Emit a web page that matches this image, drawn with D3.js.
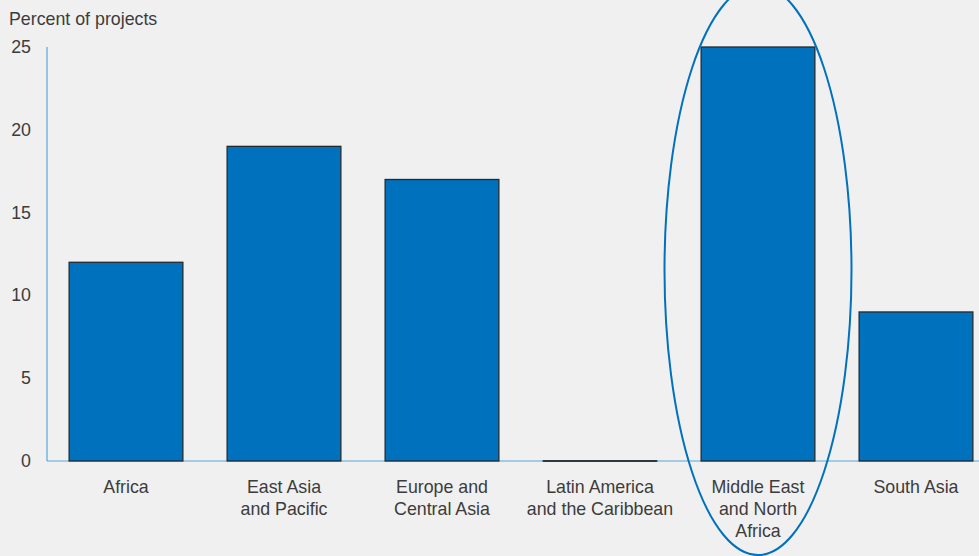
<!DOCTYPE html>
<html><head><meta charset="utf-8">
<script src="https://cdn.jsdelivr.net/npm/d3@7/dist/d3.min.js"></script>
<style>
html,body{margin:0;padding:0;background:#f0f0f0;}
svg{display:block;font-family:"Liberation Sans",Arial,Helvetica,sans-serif;}
</style></head>
<body><svg id="c" width="979" height="556"></svg>
<script>
const categories = [["Africa"],["East Asia","and Pacific"],["Europe and","Central Asia"],["Latin America","and the Caribbean"],["Middle East","and North","Africa"],["South Asia"]];
const values = [12, 19, 17, 0, 25, 9];
const yTicks = [0, 5, 10, 15, 20, 25];
const yTitle = "Percent of projects";
const highlightIndex = 4;

const svg = d3.select("#c");
const textColor = "#3c3c3c";
const fs = 17.8;
const x = d3.scaleBand().domain(d3.range(categories.length)).range([47, 995]).paddingInner(0.28).paddingOuter(0.14);
const y = d3.scaleLinear().domain([0, 25]).range([461, 47]);

// axes
svg.append("line").attr("x1",47).attr("x2",979).attr("y1",y(0)).attr("y2",y(0)).attr("stroke","#5aa5d8").attr("stroke-width",1.2);
svg.append("line").attr("x1",47).attr("x2",47).attr("y1",y(0)).attr("y2",y(25)).attr("stroke","#5aa5d8").attr("stroke-width",1.2);

svg.selectAll(".yt").data(yTicks).enter().append("text")
  .attr("x",31).attr("y",d=>y(d)+6).attr("text-anchor","end")
  .attr("font-size",fs).attr("fill",textColor).text(d=>d);

svg.append("text").attr("x",9).attr("y",25).attr("font-size",fs).attr("fill",textColor).text(yTitle);

// bars
svg.selectAll(".bar").data(values).enter().append("rect")
  .attr("x",(d,i)=>x(i)).attr("width",x.bandwidth())
  .attr("y",d=>y(d)).attr("height",d=>Math.max(0.01, y(0)-y(d)))
  .attr("fill","#0071bc").attr("stroke","#262a30").attr("stroke-width",1.3);
// zero-value bars drawn as a flat line
svg.selectAll(".zero").data(values.map((v,i)=>({v,i})).filter(d=>d.v===0)).enter().append("line")
  .attr("x1",d=>x(d.i)).attr("x2",d=>x(d.i)+x.bandwidth())
  .attr("y1",y(0)).attr("y2",y(0)).attr("stroke","#262a30").attr("stroke-width",1.5);

// x labels
categories.forEach((lines,i)=>{
  const t = svg.append("text").attr("text-anchor","middle").attr("font-size",fs).attr("fill",textColor);
  lines.forEach((ln,j)=>{
    t.append("tspan").attr("x",x(i)+x.bandwidth()/2).attr("y",493+j*22).text(ln);
  });
});

// highlight ellipse
const cx = x(highlightIndex)+x.bandwidth()/2;
svg.append("ellipse").attr("cx",cx).attr("cy",270).attr("rx",93.5).attr("ry",285)
  .attr("fill","none").attr("stroke","#0071bc").attr("stroke-width",2);
</script></body></html>
